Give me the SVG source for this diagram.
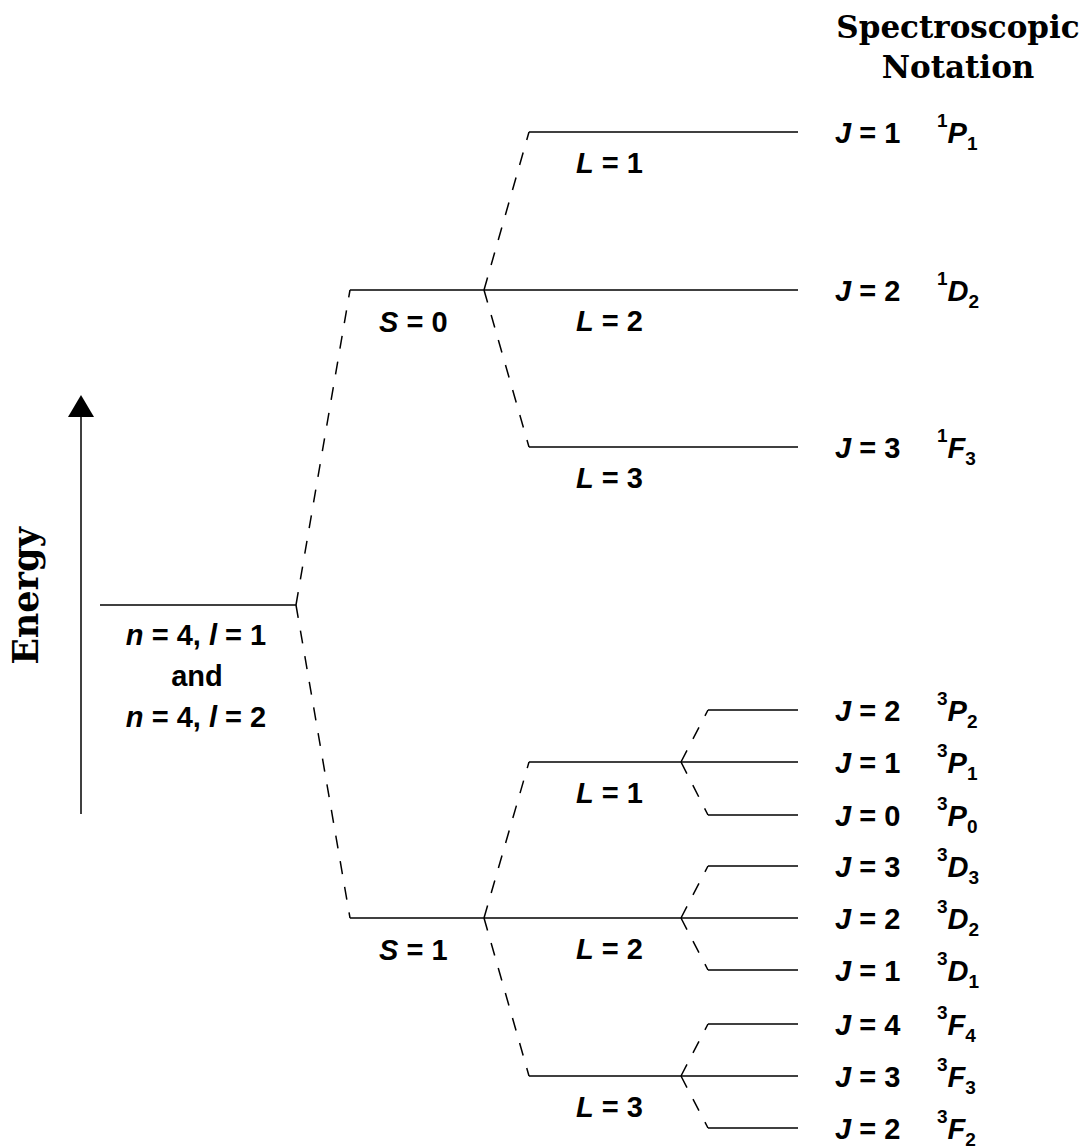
<svg xmlns="http://www.w3.org/2000/svg" width="1086" height="1146" viewBox="0 0 1086 1146">
<style>
.lv{stroke:#000;stroke-width:1.5;fill:none}
.dash{stroke:#000;stroke-width:1.5;fill:none;stroke-dasharray:13 13}
.t{font-family:"Liberation Sans",Arial,sans-serif;font-weight:bold;font-size:29px;fill:#000}
.i{font-style:italic}
.sm{font-size:19px}
.hd{font-family:"DejaVu Serif","Liberation Serif",serif;font-weight:bold;fill:#000}
</style>
<defs>
<marker id="arr" viewBox="0 0 22 26" refX="1" refY="13" markerWidth="22" markerHeight="26" markerUnits="userSpaceOnUse" orient="auto">
<path d="M0,0 L22,13 L0,26 Z" fill="#000"/>
</marker>
</defs>
<rect width="1086" height="1146" fill="#fff"/>

<g id="header">
<text class="hd" x="958" y="38" font-size="31" text-anchor="middle">Spectroscopic</text>
<text class="hd" x="958" y="78" font-size="31" text-anchor="middle">Notation</text>
</g>

<g id="energy-axis">
<line x1="81" y1="814" x2="81" y2="416" stroke="#000" stroke-width="1.5" marker-end="url(#arr)"/>
<text class="hd" font-size="35" text-anchor="middle" transform="translate(38,596) rotate(-90)">Energy</text>
</g>

<g id="connectors">
<path class="dash" d="M296,605 L350,290"/>
<path class="dash" d="M296,605 L350,918"/>
<path class="dash" d="M484,290 L529,132"/>
<path class="dash" d="M484,290 L529,447"/>
<path class="dash" d="M484,918 L529,762"/>
<path class="dash" d="M484,918 L529,1076"/>
<path class="dash" d="M681,762 L708,710"/>
<path class="dash" d="M681,762 L708,815"/>
<path class="dash" d="M681,918 L708,866"/>
<path class="dash" d="M681,918 L708,970"/>
<path class="dash" d="M681,1076 L708,1024"/>
<path class="dash" d="M681,1076 L708,1128"/>
</g>

<g id="level-n">
<line class="lv" x1="100" y1="605" x2="296" y2="605"/>
<text class="t" x="196" y="645" text-anchor="middle"><tspan class="i">n</tspan> = 4, <tspan class="i">l</tspan> = 1</text>
<text class="t" x="197" y="686" text-anchor="middle">and</text>
<text class="t" x="196" y="727" text-anchor="middle"><tspan class="i">n</tspan> = 4, <tspan class="i">l</tspan> = 2</text>
</g>

<g id="level-S0">
<line class="lv" x1="350" y1="290" x2="798" y2="290"/>
<text class="t" x="379" y="332"><tspan class="i">S</tspan> = 0</text>
</g>

<g id="level-S1">
<line class="lv" x1="350" y1="918" x2="798" y2="918"/>
<text class="t" x="379" y="960"><tspan class="i">S</tspan> = 1</text>
</g>

<g id="level-S0-L1">
<line class="lv" x1="529" y1="132" x2="798" y2="132"/>
<text class="t" x="576" y="173"><tspan class="i">L</tspan> = 1</text>
<text class="t" x="835" y="143"><tspan class="i">J</tspan> = 1<tspan class="sm" x="937" dy="-16">1</tspan><tspan class="i" dy="16">P</tspan><tspan class="sm" dy="7">1</tspan></text>
</g>

<g id="level-S0-L2">
<text class="t" x="576" y="331"><tspan class="i">L</tspan> = 2</text>
<text class="t" x="835" y="301"><tspan class="i">J</tspan> = 2<tspan class="sm" x="937" dy="-16">1</tspan><tspan class="i" dy="16">D</tspan><tspan class="sm" dy="7">2</tspan></text>
</g>

<g id="level-S0-L3">
<line class="lv" x1="529" y1="447" x2="798" y2="447"/>
<text class="t" x="576" y="488"><tspan class="i">L</tspan> = 3</text>
<text class="t" x="835" y="458"><tspan class="i">J</tspan> = 3<tspan class="sm" x="937" dy="-16">1</tspan><tspan class="i" dy="16">F</tspan><tspan class="sm" dy="7">3</tspan></text>
</g>

<g id="level-S1-L1">
<line class="lv" x1="529" y1="762" x2="798" y2="762"/>
<text class="t" x="576" y="803"><tspan class="i">L</tspan> = 1</text>
</g>

<g id="level-S1-L2">
<text class="t" x="576" y="959"><tspan class="i">L</tspan> = 2</text>
</g>

<g id="level-S1-L3">
<line class="lv" x1="529" y1="1076" x2="798" y2="1076"/>
<text class="t" x="576" y="1117"><tspan class="i">L</tspan> = 3</text>
</g>

<g id="J-3P2">
<line class="lv" x1="708" y1="710" x2="798" y2="710"/>
<text class="t" x="835" y="721"><tspan class="i">J</tspan> = 2<tspan class="sm" x="937" dy="-16">3</tspan><tspan class="i" dy="16">P</tspan><tspan class="sm" dy="7">2</tspan></text>
</g>
<g id="J-3P1">
<text class="t" x="835" y="773"><tspan class="i">J</tspan> = 1<tspan class="sm" x="937" dy="-16">3</tspan><tspan class="i" dy="16">P</tspan><tspan class="sm" dy="7">1</tspan></text>
</g>
<g id="J-3P0">
<line class="lv" x1="708" y1="815" x2="798" y2="815"/>
<text class="t" x="835" y="826"><tspan class="i">J</tspan> = 0<tspan class="sm" x="937" dy="-16">3</tspan><tspan class="i" dy="16">P</tspan><tspan class="sm" dy="7">0</tspan></text>
</g>
<g id="J-3D3">
<line class="lv" x1="708" y1="866" x2="798" y2="866"/>
<text class="t" x="835" y="877"><tspan class="i">J</tspan> = 3<tspan class="sm" x="937" dy="-16">3</tspan><tspan class="i" dy="16">D</tspan><tspan class="sm" dy="7">3</tspan></text>
</g>
<g id="J-3D2">
<text class="t" x="835" y="929"><tspan class="i">J</tspan> = 2<tspan class="sm" x="937" dy="-16">3</tspan><tspan class="i" dy="16">D</tspan><tspan class="sm" dy="7">2</tspan></text>
</g>
<g id="J-3D1">
<line class="lv" x1="708" y1="970" x2="798" y2="970"/>
<text class="t" x="835" y="981"><tspan class="i">J</tspan> = 1<tspan class="sm" x="937" dy="-16">3</tspan><tspan class="i" dy="16">D</tspan><tspan class="sm" dy="7">1</tspan></text>
</g>
<g id="J-3F4">
<line class="lv" x1="708" y1="1024" x2="798" y2="1024"/>
<text class="t" x="835" y="1035"><tspan class="i">J</tspan> = 4<tspan class="sm" x="937" dy="-16">3</tspan><tspan class="i" dy="16">F</tspan><tspan class="sm" dy="7">4</tspan></text>
</g>
<g id="J-3F3">
<text class="t" x="835" y="1087"><tspan class="i">J</tspan> = 3<tspan class="sm" x="937" dy="-16">3</tspan><tspan class="i" dy="16">F</tspan><tspan class="sm" dy="7">3</tspan></text>
</g>
<g id="J-3F2">
<line class="lv" x1="708" y1="1128" x2="798" y2="1128"/>
<text class="t" x="835" y="1139"><tspan class="i">J</tspan> = 2<tspan class="sm" x="937" dy="-16">3</tspan><tspan class="i" dy="16">F</tspan><tspan class="sm" dy="7">2</tspan></text>
</g>
</svg>
